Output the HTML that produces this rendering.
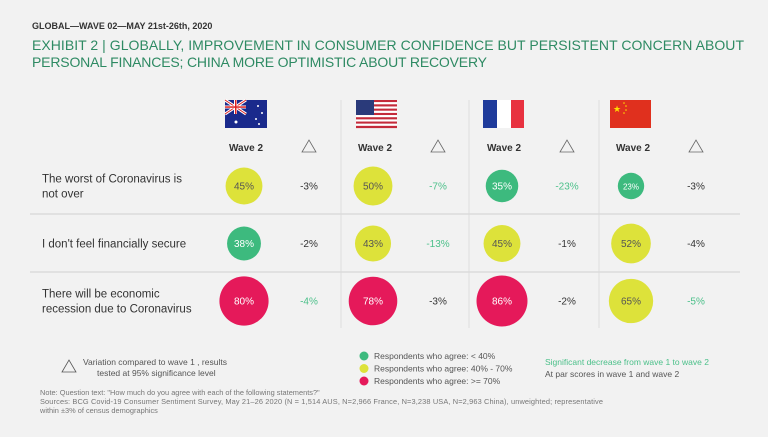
<!DOCTYPE html>
<html><head><meta charset="utf-8"><style>
body{margin:0;background:#f2f2f2;width:768px;height:432px;overflow:hidden;font-family:"Liberation Sans",sans-serif;}
svg text{font-family:"Liberation Sans",sans-serif;}
</style></head><body>
<svg id="c" width="768" height="432">
<text x="32" y="29" font-size="9" font-weight="bold" fill="#333">GLOBAL—WAVE  02—MAY 21st-26th, 2020</text>
<text x="32" y="50" font-size="14" fill="#2e8a63" textLength="712">EXHIBIT 2 | GLOBALLY, IMPROVEMENT IN CONSUMER CONFIDENCE  BUT PERSISTENT CONCERN ABOUT</text>
<text x="32" y="67" font-size="14" fill="#2e8a63" textLength="455">PERSONAL FINANCES; CHINA MORE OPTIMISTIC ABOUT RECOVERY</text>
<g id="grid"></g>
<g id="flags">
 <g><rect x="225" y="100" width="42" height="28" fill="#1a2a8c"/><path d="M225 100L246 114M246 100L225 114" stroke="#fff" stroke-width="3"/><path d="M225 100L246 114M246 100L225 114" stroke="#d22" stroke-width="1"/><rect x="234" y="100" width="3" height="14" fill="#fff"/><rect x="225" y="105.5" width="21" height="3" fill="#fff"/><rect x="235" y="100" width="1.5" height="14" fill="#d22"/><rect x="225" y="106.3" width="21" height="1.5" fill="#d22"/><circle cx="236" cy="122" r="1.5" fill="#fff"/><circle cx="258" cy="106" r="1" fill="#fff"/><circle cx="262" cy="113" r="1" fill="#fff"/><circle cx="256" cy="119" r="1" fill="#fff"/><circle cx="259" cy="124" r="1" fill="#fff"/></g>
 <g id="usflag"></g>
 <g><rect x="483" y="100" width="14" height="28" fill="#1f3b9b"/><rect x="497" y="100" width="14" height="28" fill="#fff"/><rect x="511" y="100" width="13" height="28" fill="#e83240"/></g>
 <g><rect x="610" y="100" width="41" height="28" fill="#e0301e"/><text x="613" y="112" font-size="9" fill="#ffde00">★</text><circle cx="624" cy="103" r="0.8" fill="#ffde00"/><circle cx="626" cy="106" r="0.8" fill="#ffde00"/><circle cx="626" cy="110" r="0.8" fill="#ffde00"/><circle cx="624" cy="113" r="0.8" fill="#ffde00"/></g>
</g>
<g id="rows"></g>
<g>
 <path d="M62 372L69 360L76 372Z" fill="none" stroke="#555" stroke-width="0.8"/>
 <text x="83" y="365" font-size="8.5" fill="#555">Variation compared to wave 1 , results</text>
 <text x="97" y="376" font-size="8.5" fill="#555">tested at 95% significance level</text>
</g>
<g id="legend"></g>
<text x="545" y="365" font-size="8.5" fill="#4cc08a">Significant  decrease from wave 1 to wave 2</text>
<text x="545" y="377" font-size="8.5" fill="#555">At par scores in wave 1 and wave 2</text>
<g fill="#777" font-size="7.4">
<text x="40" y="395">Note: Question text: "How much do you agree with each of the following statements?"</text>
<text x="40" y="404" textLength="563">Sources: BCG Covid-19 Consumer Sentiment Survey, May 21–26 2020 (N = 1,514 AUS, N=2,966 France, N=3,238 USA, N=2,963 China), unweighted; representative</text>
<text x="40" y="413">within ±3% of census demographics</text>
</g>
</svg>
<script>
const countries=['Australia','USA','France','China'];
const statements=['The worst of Coronavirus is|not over',"I don't feel financially secure",'There will be economic|recession due to Coronavirus'];
const wave2=[[45,50,35,23],[38,43,45,52],[80,78,86,65]];
const deltas=[[-3,-7,-23,-3],[-2,-13,-1,-4],[-4,-3,-2,-5]];
const significant=[[false,true,true,false],[false,true,false,false],[true,false,false,true]];
const NS='http://www.w3.org/2000/svg';
function mk(t,a,p){const e=document.createElementNS(NS,t);for(const k in a)e.setAttribute(k,a[k]);p.appendChild(e);return e;}
const colX=i=>244+i*129, deltaX=i=>309+i*129, rowY=r=>186+r*57.5;
const rad=v=>2.75*Math.sqrt(v);
const color=v=>v<40?'#3dba7e':(v<70?'#dde23a':'#e5195a');
const grid=document.getElementById('grid');
[214,272].forEach(y=>{const l=mk('line',{x1:30,x2:740,y1:y,y2:y,stroke:'#d0d0d0','stroke-width':1},grid);});
[341,469,599].forEach(x=>{const l=mk('line',{x1:x,x2:x,y1:100,y2:328,stroke:'#dadada','stroke-width':0.8},grid);});
const us=document.getElementById('usflag');
for(let s=0;s<13;s++)mk('rect',{x:356,y:100+s*28/13,width:41,height:28/13+0.1,fill:s%2?'#fff':'#c42a3a'},us);
mk('rect',{x:356,y:100,width:18,height:15,fill:'#2a3a7a'},us);
const rows=document.getElementById('rows');
countries.forEach((c,i)=>{
 const t=mk('text',{x:colX(i)+2,y:151,'font-size':10,'font-weight':'bold',fill:'#333','text-anchor':'middle'},rows);t.textContent='Wave 2';
 
 
 const x=deltaX(i);const p=mk('path',{d:`M${x-7} 152L${x} 140L${x+7} 152Z`,fill:'none',stroke:'#666','stroke-width':0.8},rows);
 
 
});
statements.forEach((s,r)=>{
 const lines=s.split('|');const y=rowY(r);
 lines.forEach((ln,k)=>{const t=mk('text',{x:42,y:y+4+(k-(lines.length-1)/2)*15,'font-size':11.5,fill:'#333'},rows);t.textContent=ln;
 
 });
 countries.forEach((c,i)=>{
  const v=wave2[r][i];
  const ci=mk('circle',{cx:colX(i),cy:y,r:rad(v),fill:color(v)},rows);
  
  
  const t=mk('text',{x:colX(i),y:y+3.5,'font-size':v<30?8:10,fill:v>=70||v<40?'#fff':'#555','text-anchor':'middle'},rows);t.textContent=v+'%';
  
  
  const d=mk('text',{x:deltaX(i),y:y+3.5,'font-size':10,fill:significant[r][i]?'#4cc08a':'#333','text-anchor':'middle'},rows);d.textContent=deltas[r][i]+'%';
  
  
 });
});
const legend=document.getElementById('legend');
[['#3dba7e','< 40%'],['#dde23a','40% - 70%'],['#e5195a','>= 70%']].forEach((L,k)=>{
 const g=mk('g',{},legend);
 mk('circle',{cx:364,cy:356+k*12.5,r:4.5,fill:L[0]},g);
 const t=mk('text',{x:374,y:359+k*12.5,'font-size':8.5,fill:'#555'},g);t.textContent='Respondents who agree:   '+L[1];
 t.setAttribute('xml:space','preserve');
});
</script>
</body></html>
